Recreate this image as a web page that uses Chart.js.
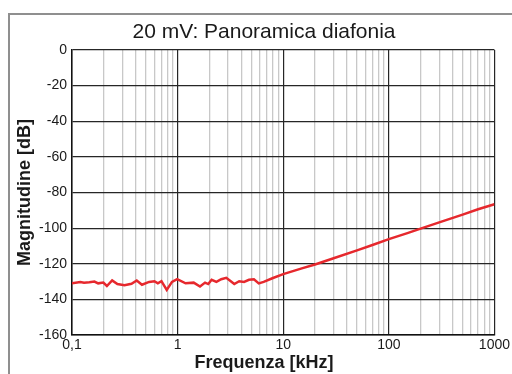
<!DOCTYPE html>
<html>
<head>
<meta charset="utf-8">
<script src="https://cdn.jsdelivr.net/npm/chart.js@4.4.1/dist/chart.umd.min.js"></script>
<style>
  body { margin: 0; overflow: hidden; background: #fff; }
  #wrap { position: relative; width: 512px; height: 374px; overflow: hidden; }
  #frame { position: absolute; left: 8px; top: 13px; width: 600px; height: 500px; border: 2px solid #8f8f8f; }
  #box { position: absolute; left: 0; top: 0; width: 512px; height: 374px; }
</style>
</head>
<body>
<div id="wrap">
  <div id="frame"></div>
  <div id="box"><canvas id="myChart"></canvas></div>
</div>
<script>
// frequenza in kHz
const freq = [0.1, 0.102, 0.12, 0.13, 0.146, 0.163, 0.177, 0.198, 0.214, 0.24, 0.269, 0.314, 0.366, 0.41, 0.46,
    0.537, 0.603, 0.65, 0.703, 0.789, 0.885, 0.99, 1.19, 1.42, 1.63, 1.82, 1.95, 2.1, 2.33, 2.59, 2.89, 3.21,
    3.44, 3.83, 4.26, 4.74, 5.28, 5.87, 6.53, 8, 10, 15, 20, 30, 50, 70, 100, 150, 200, 300, 500, 700, 1000]
// magnitudine in dB
const magnitude = [-131.0, -131.0, -130.2, -130.6, -130.4, -130.0, -131.0, -130.6, -132.5, -129.4, -131.4, -132.0,
    -131.2, -129.4, -131.8, -130.2, -129.8, -131.0, -129.8, -134.7, -130.2, -128.7, -131.0, -130.6, -132.8, -130.6,
    -131.4, -129.0, -130.2, -128.7, -127.9, -130.0, -131.4, -129.8, -130.2, -129.0, -128.7, -131.0, -130.2,
    -128.0, -125.8, -122.6, -120.4, -116.9, -112.5, -109.5, -106.2, -102.8, -100.3, -96.8, -92.4, -89.4, -86.6]

// linee verticali della griglia
const gridFreqs = [0.1, 0.2, 0.3, 0.4, 0.5, 0.6, 0.7, 0.8, 0.9,
    1, 2, 3, 4, 5, 6, 7, 8, 9,
    10, 20, 30, 40, 50, 60, 70, 80, 90,
    100, 200, 300, 400, 500, 600, 700, 800, 900, 1000]
const decadeLabels = { 0.1: '0,1', 1: '1', 10: '10', 100: '100', 1000: '1000' }
const yTicks = [0, -20, -40, -60, -80, -100, -120, -140, -160]

const showChart = () => {
    const points = freq.map((f, i) => ({ x: f, y: magnitude[i] }))
    const ctx = document.getElementById('myChart').getContext('2d')

    new Chart(ctx, {
        type: 'line',
        data: {
            datasets: [{
                data: points,
                borderColor: '#e6282d',
                borderWidth: 2.5,
                pointRadius: 0,
                tension: 0,
                fill: false,
            }]
        },
        options: {
            responsive: true,
            maintainAspectRatio: false,
            animation: false,
            layout: { padding: { left: 16, right: 0, top: 0, bottom: 0 } },
            plugins: {
                legend: { display: false },
                tooltip: { enabled: false },
                title: {
                    display: true,
                    text: '20 mV: Panoramica diafonia',
                    color: '#1a1a1a',
                    font: { family: 'Liberation Sans, Arial', size: 21, weight: 'normal', lineHeight: 1 },
                    padding: { top: 22, bottom: 7 },
                },
                subtitle: {
                    display: true,
                    position: 'bottom',
                    text: 'Frequenza [kHz]',
                    color: '#1a1a1a',
                    font: { family: 'Liberation Sans, Arial', size: 18, weight: 'bold', lineHeight: 1 },
                    padding: { top: 0, bottom: 2 },
                },
            },
            scales: {
                x: {
                    type: 'logarithmic',
                    min: 0.1,
                    max: 1000,
                    afterBuildTicks: (scale) => {
                        scale.ticks = gridFreqs.map(v => ({ value: v }))
                    },
                    afterFit: (scale) => { scale.height = 19 },
                    ticks: {
                        autoSkip: false,
                        maxRotation: 0,
                        padding: 2,
                        color: '#1a1a1a',
                        font: { family: 'Liberation Sans, Arial', size: 14 },
                        callback: (value) => decadeLabels[value] !== undefined ? decadeLabels[value] : '',
                    },
                    grid: {
                        drawTicks: false,
                        color: (c) => decadeLabels[c.tick.value] !== undefined ? '#262626' : '#c8c8c8',
                        lineWidth: (c) => decadeLabels[c.tick.value] !== undefined ? 1.2 : 1.3,
                    },
                    border: { color: '#111', width: 1.5 },
                },
                y: {
                    min: -160,
                    max: 0,
                    afterBuildTicks: (scale) => {
                        scale.ticks = yTicks.map(v => ({ value: v }))
                    },
                    afterFit: (scale) => { scale.width = 56 },
                    ticks: {
                        padding: 5,
                        color: '#1a1a1a',
                        font: { family: 'Liberation Sans, Arial', size: 14 },
                    },
                    grid: { drawTicks: false, color: '#262626', lineWidth: 1.2 },
                    border: { color: '#111', width: 1.5 },
                    title: {
                        display: true,
                        text: 'Magnitudine [dB]',
                        color: '#1a1a1a',
                        font: { family: 'Liberation Sans, Arial', size: 18, weight: 'bold', lineHeight: 1 },
                        padding: 0,
                    },
                },
            },
        },
    })
}

window.onload = function () {
    showChart()
}
</script>
</body>
</html>
